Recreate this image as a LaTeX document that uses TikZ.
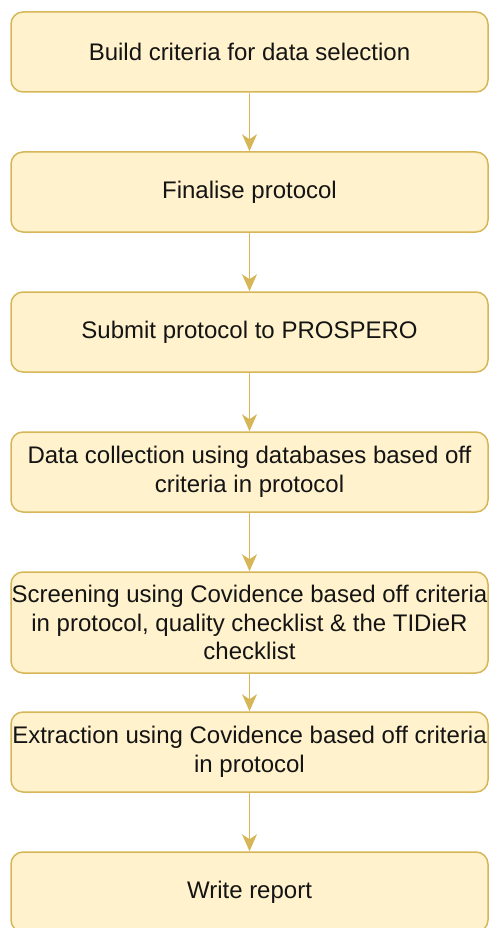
\documentclass[tikz,border=0pt]{standalone}
\usepackage{fontspec}
\setmainfont{Liberation Sans}
\usetikzlibrary{arrows.meta}

\definecolor{boxfill}{HTML}{FFF2CC}
\definecolor{boxline}{HTML}{D6B656}

\tikzset{
  stage/.style={rectangle,rounded corners=12pt,draw=boxline,fill=boxfill,
    line width=1.5pt,minimum width=477pt,minimum height=80pt,inner sep=0pt,
    align=center,text=black!92,font=\fontsize{24}{28.5}\selectfont},
  flow/.style={boxline,line width=1.6pt,
    -{Stealth[length=17pt,width=15pt,inset=5pt]}}
}

\begin{document}
\begin{tikzpicture}[x=1pt,y=-1pt]
  \useasboundingbox (0,0) rectangle (490,928);

  \node[stage] (crit)    at (249.5,52)  {Build criteria for data selection};
  \node[stage] (final)   at (249.5,192) {Finalise protocol};
  \node[stage] (submit)  at (249.5,332) {Submit protocol to PROSPERO};
  \node[stage] (collect) at (249.5,472) {Data collection using databases based off\\criteria in protocol};
  \node[stage,minimum height=101pt] (screen) at (249.5,622.5)
    {Screening using Covidence based off criteria\\in protocol, quality checklist \& the TIDieR\\checklist};
  \node[stage] (extract) at (249.5,752) {Extraction using Covidence based off criteria\\in protocol};
  \node[stage] (report)  at (249.5,892) {Write report};

  \foreach \a/\b in {crit/final,final/submit,submit/collect,collect/screen,screen/extract,extract/report}
    \draw[flow] (\a) -- (\b);
\end{tikzpicture}
\end{document}
